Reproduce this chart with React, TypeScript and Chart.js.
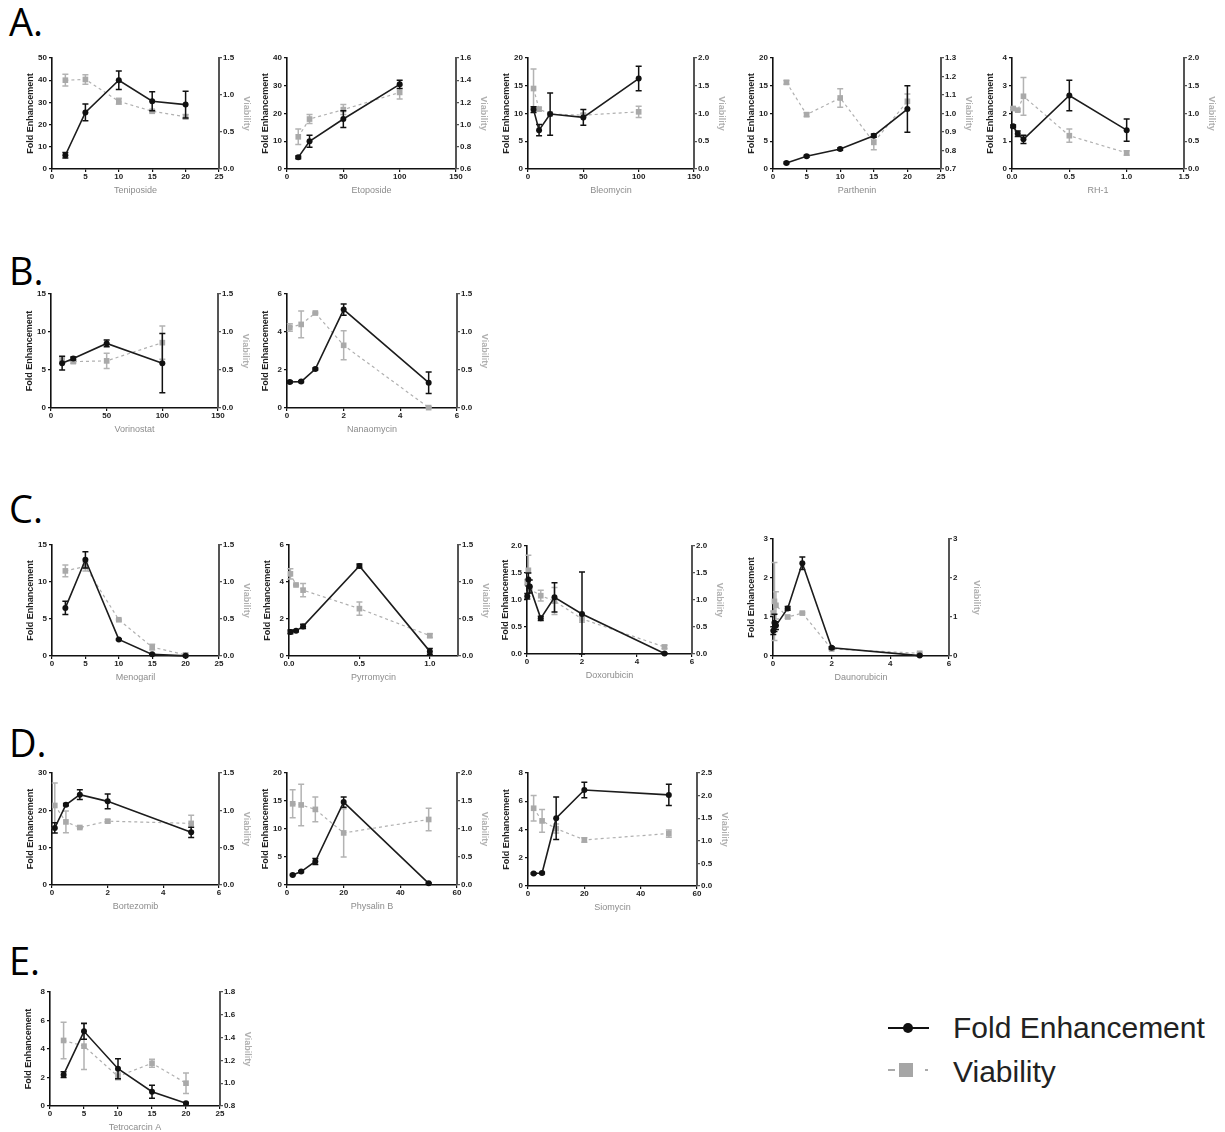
import React, { useEffect, useRef } from 'react';
import { Chart, registerables } from 'chart.js';
Chart.register(...registerables);

const FONT = '"Liberation Sans", Arial, Helvetica, sans-serif';

// ---------- tick arrays ----------
const t0to25 = [0, 5, 10, 15, 20, 25];
const t0to50 = [0, 10, 20, 30, 40, 50];
const t0to40 = [0, 10, 20, 30, 40];
const t0to150 = [0, 50, 100, 150];
const t0to20 = [0, 5, 10, 15, 20];
const t0to15 = [0, 5, 10, 15];
const t0to1p5 = [0, 0.5, 1.0, 1.5];
const t0to2 = [0, 0.5, 1.0, 1.5, 2.0];
const t0to2p5 = [0, 0.5, 1.0, 1.5, 2.0, 2.5];
const t0p6to1p6 = [0.6, 0.8, 1.0, 1.2, 1.4, 1.6];
const t0p7to1p3 = [0.7, 0.8, 0.9, 1.0, 1.1, 1.2, 1.3];
const t0p8to1p8 = [0.8, 1.0, 1.2, 1.4, 1.6, 1.8];
const t0to4 = [0, 1, 2, 3, 4];
const t0to6by2 = [0, 2, 4, 6];
const t0to8by2 = [0, 2, 4, 6, 8];
const t0to3 = [0, 1, 2, 3];
const t0to30 = [0, 10, 20, 30];
const t0to60 = [0, 20, 40, 60];
const t0to1 = [0, 0.5, 1.0];

// ---------- data ----------
const tenX = [2, 5, 10, 15, 20];
const tenFE = [6.2, 25.5, 40, 30.5, 29];
const tenFEErr = [1.2, 3.8, 4.2, 4.3, 6];
const tenVia = [1.2, 1.21, 0.915, 0.78, 0.705];
const tenViaErr = [0.08, 0.065, 0.04, 0.02, 0.03];

const etoX = [10, 20, 50, 100];
const etoFE = [4.2, 10, 18, 30.5];
const etoFEErr = [0.5, 2.2, 3, 1.5];
const etoVia = [0.89, 1.05, 1.135, 1.29];
const etoViaErr = [0.07, 0.04, 0.045, 0.06];

const bleX = [5, 10, 20, 50, 100];
const bleFE = [10.7, 7, 9.9, 9.3, 16.3];
const bleFEErr = [0.5, 1, 3.8, 1.4, 2.2];
const bleVia = [1.45, 1.08, 0.99, 0.97, 1.03];
const bleViaErr = [0.35, 0.03, 0.02, 0.03, 0.1];

const parX = [2, 5, 10, 15, 20];
const parFE = [1.1, 2.3, 3.6, 6.0, 10.8];
const parFEErr = [0.15, 0.2, 0.2, 0.3, 4.2];
const parVia = [1.168, 0.994, 1.084, 0.844, 1.066];
const parViaErr = [0.01, 0.01, 0.05, 0.04, 0.04];

const rhX = [0.01, 0.05, 0.1, 0.5, 1.0];
const rhFE = [1.54, 1.27, 1.07, 2.65, 1.4];
const rhFEErr = [0.05, 0.1, 0.15, 0.55, 0.4];
const rhVia = [1.09, 1.06, 1.31, 0.6, 0.29];
const rhViaErr = [0.02, 0.02, 0.34, 0.12, 0.04];

const vorX = [10, 20, 50, 100];
const vorFE = [5.9, 6.5, 8.5, 5.9];
const vorFEErr = [0.9, 0.2, 0.45, 3.9];
const vorVia = [0.63, 0.61, 0.62, 0.86];
const vorViaErr = [0.04, 0.02, 0.1, 0.22];

const nanX = [0.1, 0.5, 1, 2, 5];
const nanFE = [1.37, 1.39, 2.05, 5.18, 1.33];
const nanFEErr = [0.05, 0.05, 0.05, 0.3, 0.57];
const nanVia = [1.06, 1.1, 1.25, 0.825, 0.005];
const nanViaErr = [0.05, 0.175, 0.01, 0.19, 0.01];

const menX = [2, 5, 10, 15, 20];
const menFE = [6.5, 13, 2.24, 0.22, 0.02];
const menFEErr = [0.9, 1.1, 0.1, 0.1, 0.05];
const menVia = [1.15, 1.21, 0.49, 0.12, 0.015];
const menViaErr = [0.08, 0.06, 0.01, 0.04, 0.01];

const pyrX = [0.01, 0.05, 0.1, 0.5, 1.0];
const pyrFE = [1.3, 1.36, 1.6, 4.87, 0.25];
const pyrFEErr = [0.1, 0.05, 0.12, 0.1, 0.15];
const pyrVia = [1.11, 0.96, 0.89, 0.64, 0.275];
const pyrViaErr = [0.07, 0.01, 0.09, 0.09, 0.025];

const doxX = [0.01, 0.05, 0.1, 0.5, 1, 2, 5];
const doxFE = [1.07, 1.38, 1.25, 0.66, 1.05, 0.74, 0.01];
const doxFEErr = [0.05, 0.12, 0.12, 0.04, 0.27, 0.78, 0.01];
const doxVia = [1.33, 1.55, 1.2, 1.08, 0.98, 0.65, 0.13];
const doxViaErr = [0.05, 0.28, 0.05, 0.1, 0.25, 0.06, 0.03];

const dauX = [0.01, 0.05, 0.1, 0.5, 1, 2, 5];
const dauFE = [0.65, 0.85, 0.78, 1.22, 2.38, 0.21, 0.01];
const dauFEErr = [0.1, 0.22, 0.1, 0.05, 0.16, 0.03, 0.01];
const dauVia = [1.1, 1.4, 1.3, 1.0, 1.1, 0.18, 0.07];
const dauViaErr = [0.05, 1.0, 0.35, 0.03, 0.02, 0.02, 0.02];

const borX = [0.1, 0.5, 1, 2, 5];
const borFE = [15.3, 21.5, 24.2, 22.4, 14.1];
const borFEErr = [1.4, 0.3, 1.3, 2, 1.4];
const borVia = [1.065, 0.845, 0.77, 0.855, 0.825];
const borViaErr = [0.3, 0.145, 0.01, 0.02, 0.11];

const phyX = [2, 5, 10, 20, 50];
const phyFE = [1.8, 2.4, 4.2, 14.8, 0.3];
const phyFEErr = [0.1, 0.15, 0.55, 0.9, 0.1];
const phyVia = [1.45, 1.43, 1.35, 0.93, 1.17];
const phyViaErr = [0.25, 0.37, 0.22, 0.43, 0.2];

const sioX = [2, 5, 10, 20, 50];
const sioFE = [0.89, 0.92, 4.8, 6.8, 6.45];
const sioFEErr = [0.05, 0.05, 1.5, 0.55, 0.75];
const sioVia = [1.72, 1.44, 1.27, 1.02, 1.16];
const sioViaErr = [0.28, 0.25, 0.1, 0.05, 0.08];

const tetX = [2, 5, 10, 15, 20];
const tetFE = [2.2, 5.24, 2.62, 1.0, 0.2];
const tetFEErr = [0.2, 0.55, 0.7, 0.45, 0.05];
const tetVia = [1.375, 1.325, 1.06, 1.175, 1.0];
const tetViaErr = [0.16, 0.205, 0.03, 0.035, 0.09];

// ---------- panels (data refs + layout) ----------
type Panel = {
  name: string;
  x: number[]; fe: number[]; feErr: number[]; via: number[]; viaErr: number[];
  xTicks: number[]; xDec: number; xMax?: number;
  feTicks: number[]; feDec: number;
  viaTicks: number[]; viaDec: number;
  box: [number, number, number, number]; // left, top, right, bottom of plot area
};

const panels: Panel[] = [
  { name: 'Teniposide', x: tenX, fe: tenFE, feErr: tenFEErr, via: tenVia, viaErr: tenViaErr, xTicks: t0to25, xDec: 0, feTicks: t0to50, feDec: 0, viaTicks: t0to1p5, viaDec: 1, box: [52, 58, 219, 169] },
  { name: 'Etoposide', x: etoX, fe: etoFE, feErr: etoFEErr, via: etoVia, viaErr: etoViaErr, xTicks: t0to150, xDec: 0, feTicks: t0to40, feDec: 0, viaTicks: t0p6to1p6, viaDec: 1, box: [287, 58, 456, 169] },
  { name: 'Bleomycin', x: bleX, fe: bleFE, feErr: bleFEErr, via: bleVia, viaErr: bleViaErr, xTicks: t0to150, xDec: 0, feTicks: t0to20, feDec: 0, viaTicks: t0to2, viaDec: 1, box: [528, 58, 694, 169] },
  { name: 'Parthenin', x: parX, fe: parFE, feErr: parFEErr, via: parVia, viaErr: parViaErr, xTicks: t0to25, xDec: 0, feTicks: t0to20, feDec: 0, viaTicks: t0p7to1p3, viaDec: 1, box: [773, 58, 941, 169] },
  { name: 'RH-1', x: rhX, fe: rhFE, feErr: rhFEErr, via: rhVia, viaErr: rhViaErr, xTicks: t0to1p5, xDec: 1, feTicks: t0to4, feDec: 0, viaTicks: t0to2, viaDec: 1, box: [1012, 58, 1184, 169] },
  { name: 'Vorinostat', x: vorX, fe: vorFE, feErr: vorFEErr, via: vorVia, viaErr: vorViaErr, xTicks: t0to150, xDec: 0, feTicks: t0to15, feDec: 0, viaTicks: t0to1p5, viaDec: 1, box: [51, 294, 218, 408] },
  { name: 'Nanaomycin', x: nanX, fe: nanFE, feErr: nanFEErr, via: nanVia, viaErr: nanViaErr, xTicks: t0to6by2, xDec: 0, feTicks: t0to6by2, feDec: 0, viaTicks: t0to1p5, viaDec: 1, box: [287, 294, 457, 408] },
  { name: 'Menogaril', x: menX, fe: menFE, feErr: menFEErr, via: menVia, viaErr: menViaErr, xTicks: t0to25, xDec: 0, feTicks: t0to15, feDec: 0, viaTicks: t0to1p5, viaDec: 1, box: [52, 545, 219, 656] },
  { name: 'Pyrromycin', x: pyrX, fe: pyrFE, feErr: pyrFEErr, via: pyrVia, viaErr: pyrViaErr, xTicks: t0to1, xDec: 1, xMax: 1.2, feTicks: t0to6by2, feDec: 0, viaTicks: t0to1p5, viaDec: 1, box: [289, 545, 458, 656] },
  { name: 'Doxorubicin', x: doxX, fe: doxFE, feErr: doxFEErr, via: doxVia, viaErr: doxViaErr, xTicks: t0to6by2, xDec: 0, feTicks: t0to2, feDec: 1, viaTicks: t0to2, viaDec: 1, box: [527, 546, 692, 654] },
  { name: 'Daunorubicin', x: dauX, fe: dauFE, feErr: dauFEErr, via: dauVia, viaErr: dauViaErr, xTicks: t0to6by2, xDec: 0, feTicks: t0to3, feDec: 0, viaTicks: t0to3, viaDec: 0, box: [773, 539, 949, 656] },
  { name: 'Bortezomib', x: borX, fe: borFE, feErr: borFEErr, via: borVia, viaErr: borViaErr, xTicks: t0to6by2, xDec: 0, feTicks: t0to30, feDec: 0, viaTicks: t0to1p5, viaDec: 1, box: [52, 773, 219, 885] },
  { name: 'Physalin B', x: phyX, fe: phyFE, feErr: phyFEErr, via: phyVia, viaErr: phyViaErr, xTicks: t0to60, xDec: 0, feTicks: t0to20, feDec: 0, viaTicks: t0to2, viaDec: 1, box: [287, 773, 457, 885] },
  { name: 'Siomycin', x: sioX, fe: sioFE, feErr: sioFEErr, via: sioVia, viaErr: sioViaErr, xTicks: t0to60, xDec: 0, feTicks: t0to8by2, feDec: 0, viaTicks: t0to2p5, viaDec: 1, box: [528, 773, 697, 886] },
  { name: 'Tetrocarcin A', x: tetX, fe: tetFE, feErr: tetFEErr, via: tetVia, viaErr: tetViaErr, xTicks: t0to25, xDec: 0, feTicks: t0to8by2, feDec: 0, viaTicks: t0p8to1p8, viaDec: 1, box: [50, 992, 220, 1106] },
];

const sectionLetters = [
  { text: 'A.', top: 2 },
  { text: 'B.', top: 251 },
  { text: 'C.', top: 489 },
  { text: 'D.', top: 723 },
  { text: 'E.', top: 941 },
];

const LEFT_W = 40;
const RIGHT_W = 40;
const BOTTOM_H = 32;
const TOP_PAD = 8;

const errorBarPlugin = {
  id: 'errorBars',
  beforeDatasetDraw(chart: any, args: any) {
    const ds = chart.data.datasets[args.index] as any;
    const errs: number[] | undefined = ds.errors;
    if (!errs) return;
    const meta = args.meta;
    const yScale = chart.scales[meta.yAxisID];
    const ctx = chart.ctx;
    ctx.save();
    ctx.strokeStyle = ds.errorColor;
    ctx.lineWidth = ds.errorWidth;
    ctx.setLineDash([]);
    meta.data.forEach((pt: any, i: number) => {
      const e = errs[i];
      if (!e) return;
      const v = ds.data[i].y;
      const yTop = yScale.getPixelForValue(Math.min(v + e, yScale.max));
      const yBot = yScale.getPixelForValue(Math.max(v - e, yScale.min));
      const x = pt.x;
      const cw = 3;
      ctx.beginPath();
      ctx.moveTo(x, yTop); ctx.lineTo(x, yBot);
      ctx.moveTo(x - cw, yTop); ctx.lineTo(x + cw, yTop);
      ctx.moveTo(x - cw, yBot); ctx.lineTo(x + cw, yBot);
      ctx.stroke();
    });
    ctx.restore();
  },
};

const setTicks = (vals: number[]) => (scale: any) => {
  scale.ticks = vals.map((v) => ({ value: v }));
};

function ChartPanel({ p }: { p: Panel }) {
  const ref = useRef<HTMLCanvasElement | null>(null);
  const [L, T, R, B] = p.box;
  const w = R - L + LEFT_W + RIGHT_W;
  const h = B - T + TOP_PAD + BOTTOM_H;

  useEffect(() => {
    if (!ref.current) return;
    const tickFont = { family: FONT, size: 8, weight: 'bold' as const };
    const chart = new Chart(ref.current, {
      type: 'line',
      data: {
        datasets: [
          {
            label: 'Fold Enhancement',
            data: p.x.map((x, i) => ({ x, y: p.fe[i] })),
            yAxisID: 'yFE',
            borderColor: '#1c1c1c',
            borderWidth: 1.6,
            pointRadius: 3,
            pointBackgroundColor: '#111',
            pointBorderWidth: 0,
            pointStyle: 'circle',
            tension: 0,
            clip: false,
            errors: p.feErr,
            errorColor: '#111',
            errorWidth: 1.5,
          } as any,
          {
            label: 'Viability',
            data: p.x.map((x, i) => ({ x, y: p.via[i] })),
            yAxisID: 'yV',
            borderColor: '#b0b0b0',
            borderWidth: 1.2,
            borderDash: [3, 3],
            pointRadius: 4,
            pointBackgroundColor: '#a9a9a9',
            pointBorderWidth: 0,
            pointStyle: 'rect',
            tension: 0,
            clip: false,
            errors: p.viaErr,
            errorColor: '#b3b3b3',
            errorWidth: 1.5,
          } as any,
        ],
      },
      options: {
        responsive: false,
        maintainAspectRatio: false,
        animation: false,
        devicePixelRatio: 1,
        layout: { padding: { top: TOP_PAD, left: 0, right: 0, bottom: 0 } },
        plugins: { legend: { display: false }, tooltip: { enabled: false } },
        scales: {
          x: {
            type: 'linear',
            min: p.xTicks[0],
            max: p.xMax ?? p.xTicks[p.xTicks.length - 1],
            afterBuildTicks: setTicks(p.xTicks),
            afterFit: (s: any) => { s.height = BOTTOM_H; },
            grid: { display: true, drawOnChartArea: false, drawTicks: true, tickLength: 3, color: '#111', tickColor: '#111', lineWidth: 1.2 },
            border: { display: true, color: '#111', width: 1.6 },
            ticks: { font: tickFont, color: '#222', padding: 0, autoSkip: false, maxRotation: 0, callback: (v: any) => Number(v).toFixed(p.xDec) },
            title: { display: true, text: p.name, color: '#8c8c8c', font: { family: FONT, size: 9 }, padding: { top: 0, bottom: 5 } },
          },
          yFE: {
            type: 'linear',
            position: 'left',
            min: p.feTicks[0],
            max: p.feTicks[p.feTicks.length - 1],
            afterBuildTicks: setTicks(p.feTicks),
            afterFit: (s: any) => { s.width = LEFT_W; },
            grid: { display: true, drawOnChartArea: false, drawTicks: true, tickLength: 3, color: '#111', tickColor: '#111', lineWidth: 1.2 },
            border: { display: true, color: '#111', width: 1.6 },
            ticks: { font: tickFont, color: '#222', padding: 2, autoSkip: false, callback: (v: any) => Number(v).toFixed(p.feDec) },
            title: { display: true, text: 'Fold Enhancement', color: '#222', font: { family: FONT, size: 9, weight: 'bold' }, padding: { top: 13, bottom: 0 } },
          },
          yV: {
            type: 'linear',
            position: 'right',
            min: p.viaTicks[0],
            max: p.viaTicks[p.viaTicks.length - 1],
            afterBuildTicks: setTicks(p.viaTicks),
            afterFit: (s: any) => { s.width = RIGHT_W; },
            grid: { display: true, drawOnChartArea: false, drawTicks: true, tickLength: 3, color: '#555', tickColor: '#555', lineWidth: 1.2 },
            border: { display: true, color: '#555', width: 2 },
            ticks: { font: tickFont, color: '#222', padding: 1, autoSkip: false, callback: (v: any) => Number(v).toFixed(p.viaDec) },
            title: { display: true, text: 'Viability', color: '#b0b0b0', font: { family: FONT, size: 9, weight: 'bold' }, padding: { top: 7, bottom: 0 } },
          },
        },
      } as any,
      plugins: [errorBarPlugin],
    });
    return () => chart.destroy();
  }, [p]);

  return (
    <canvas
      ref={ref}
      width={w}
      height={h}
      style={{ position: 'absolute', left: L - LEFT_W, top: T - TOP_PAD, width: w, height: h }}
    />
  );
}

export default function App() {
  return (
    <div style={{ position: 'absolute', left: 0, top: 0, width: 1225, height: 1132, background: '#fff', overflow: 'hidden' }}>
      {sectionLetters.map((s) => (
        <div
          key={s.text}
          style={{ position: 'absolute', left: 9, top: s.top, fontFamily: '"Open Sans", "Noto Sans", sans-serif', fontSize: 38, lineHeight: '38px', color: '#000' }}
        >
          {s.text}
        </div>
      ))}
      {panels.map((p) => (
        <ChartPanel key={p.name} p={p} />
      ))}
      {/* legend */}
      <div style={{ position: 'absolute', left: 888, top: 1026.5, width: 41, height: 2.5, background: '#111' }} />
      <div style={{ position: 'absolute', left: 903, top: 1023, width: 10, height: 10, borderRadius: '50%', background: '#111' }} />
      <div style={{ position: 'absolute', left: 953, top: 1012.5, fontFamily: FONT, fontSize: 30, lineHeight: '30px', color: '#222', whiteSpace: 'nowrap' }}>Fold Enhancement</div>
      <div style={{ position: 'absolute', left: 888, top: 1069, width: 7, height: 2, background: '#aaa' }} />
      <div style={{ position: 'absolute', left: 899, top: 1063, width: 14, height: 14, background: '#a6a6a6' }} />
      <div style={{ position: 'absolute', left: 925, top: 1069, width: 3, height: 2, background: '#aaa' }} />
      <div style={{ position: 'absolute', left: 953, top: 1056.5, fontFamily: FONT, fontSize: 30, lineHeight: '30px', color: '#222', whiteSpace: 'nowrap' }}>Viability</div>
    </div>
  );
}
